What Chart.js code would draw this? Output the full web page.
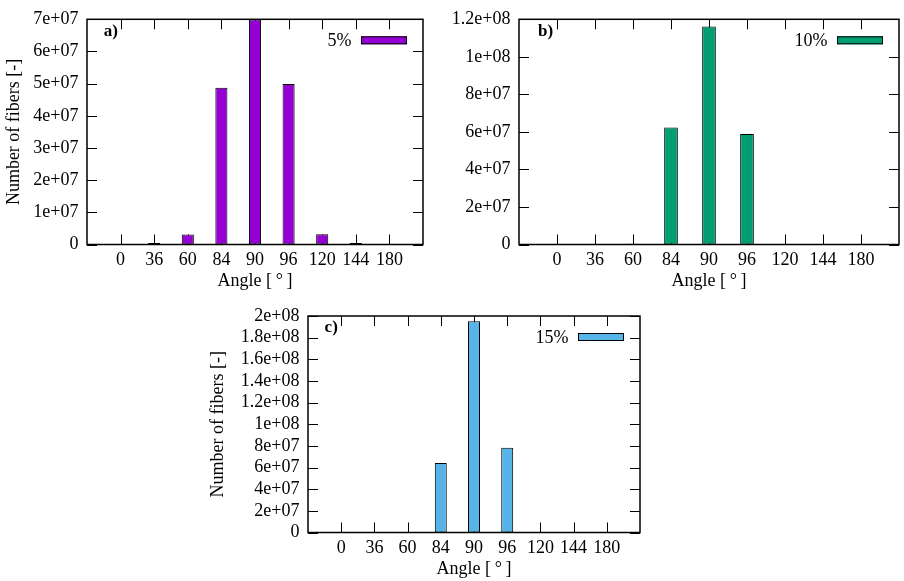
<!DOCTYPE html>
<html lang="en">
<head>
    <meta charset="UTF-8">
    <title>Number of fibers per angle</title>
    <script src="https://cdn.jsdelivr.net/npm/chart.js"></script>
    <style>
        html, body { margin: 0; padding: 0; background: #fff; overflow: hidden; }
        body { width: 904px; height: 581px; position: relative; }
        canvas { position: absolute; }
    </style>
</head>
<body>
    <canvas id="chartA" width="452" height="295" style="left:0px;top:0px"></canvas>
    <canvas id="chartB" width="452" height="295" style="left:452px;top:0px"></canvas>
    <canvas id="chartC" width="456" height="288" style="left:204px;top:295px"></canvas>
    <script>
        // angle classes (x axis)
        const angles = ['0', '36', '60', '84', '90', '96', '120', '144', '180'];

        // number of fibers per angle
        const fibers5 = [1e5, 5e5, 3.1e6, 4.87e7, 6.99e7, 4.99e7, 3.2e6, 5e5, 1e5];
        const fibers10 = [1e5, 1e5, 4e5, 6.24e7, 1.161e8, 5.89e7, 1e5, 1e5, 1e5];
        const fibers15 = [2e5, 2e5, 2e5, 6.42e7, 1.952e8, 7.83e7, 2e5, 2e5, 2e5];

        // y ticks of each panel
        const yTicksA = [0, 1e7, 2e7, 3e7, 4e7, 5e7, 6e7, 7e7];
        const yTicksB = [0, 2e7, 4e7, 6e7, 8e7, 1e8, 1.2e8];
        const yTicksC = [0, 2e7, 4e7, 6e7, 8e7, 1e8, 1.2e8, 1.4e8, 1.6e8, 1.8e8, 2e8];

        const TICK = 10;

        Chart.defaults.font.family = "'Liberation Serif', 'DejaVu Serif', serif";
        Chart.defaults.font.size = 18;
        Chart.defaults.color = '#000';

        // gnuplot style number format: 1.2e+08
        function gnuFmt(v) {
            if (Math.abs(v) < 1) return '0';
            const e = Math.floor(Math.log10(v) + 1e-9);
            const m = parseFloat((v / Math.pow(10, e)).toFixed(2));
            return m + 'e+' + String(e).padStart(2, '0');
        }

        // frame, inward ticks, panel tag and key, like gnuplot draws them
        const gnuFrame = {
            id: 'gnuFrame',
            beforeDatasetsDraw(chart) {
                const { ctx, chartArea: a, scales: { x, y } } = chart;
                ctx.save();
                ctx.strokeStyle = '#000';
                ctx.lineWidth = 1;
                ctx.beginPath();
                x.ticks.forEach(t => {
                    if (angles[t.value] === undefined) return;
                    const px = Math.round(x.getPixelForValue(t.value)) + 0.5;
                    ctx.moveTo(px, a.bottom); ctx.lineTo(px, a.bottom - TICK);
                    ctx.moveTo(px, a.top); ctx.lineTo(px, a.top + TICK);
                });
                y.ticks.forEach(t => {
                    const py = Math.round(y.getPixelForValue(t.value)) + 0.5;
                    ctx.moveTo(a.left, py); ctx.lineTo(a.left + TICK, py);
                    ctx.moveTo(a.right, py); ctx.lineTo(a.right - TICK, py);
                });
                ctx.stroke();
                ctx.restore();
            },
            afterDatasetsDraw(chart, args, opts) {
                const { ctx, chartArea: a } = chart;
                const ds = chart.data.datasets[0];
                ctx.save();
                ctx.strokeStyle = '#000';
                ctx.lineWidth = 1.5;
                ctx.strokeRect(a.left, a.top, a.width, a.height);

                // panel tag
                ctx.fillStyle = '#000';
                ctx.font = "bold 17px 'Liberation Serif', serif";
                ctx.textAlign = 'left';
                ctx.textBaseline = 'middle';
                ctx.fillText(opts.tag, a.left + a.width * 0.05, a.top + a.height * 0.05 + 1);

                // key
                const bx = a.right - 16 - 46, by = a.top + 17;
                ctx.fillStyle = ds.backgroundColor;
                ctx.fillRect(bx, by, 46, 8);
                ctx.lineWidth = 1;
                ctx.strokeRect(bx + 0.5, by + 0.5, 45, 7);
                ctx.fillStyle = '#000';
                ctx.font = "18px 'Liberation Serif', serif";
                ctx.textAlign = 'right';
                ctx.fillText(ds.label, bx - 9.5, by + 5);
                ctx.restore();
            }
        };

        function makePanel(id, values, label, color, tag, yTicks, yTitle, yWidth, padTop, padRight) {
            const ctx = document.getElementById(id).getContext('2d');
            return new Chart(ctx, {
                type: 'bar',
                data: {
                    datasets: [{
                        label: label,
                        data: values.map((v, i) => ({ x: i, y: v })),
                        backgroundColor: color,
                        borderColor: '#000',
                        borderWidth: 1,
                        borderSkipped: false,
                        categoryPercentage: 1,
                        barPercentage: 0.36
                    }]
                },
                options: {
                    responsive: false,
                    animation: false,
                    layout: { padding: { top: padTop, right: padRight, left: 0, bottom: 0 } },
                    scales: {
                        x: {
                            type: 'linear',
                            offset: false,
                            min: -1,
                            max: angles.length,
                            grid: { display: false, drawTicks: false },
                            border: { display: false },
                            ticks: {
                                stepSize: 1,
                                autoSkip: false,
                                maxRotation: 0,
                                padding: 5,
                                callback: v => angles[Math.round(v)] ?? ''
                            },
                            title: { display: true, text: 'Angle [\u2009°\u2009]', padding: { top: 0, bottom: 3 } },
                            afterFit: s => { s.height = 50.5; }
                        },
                        y: {
                            min: 0,
                            max: yTicks[yTicks.length - 1],
                            grid: { display: false, drawTicks: false },
                            border: { display: false },
                            afterBuildTicks: s => { s.ticks = yTicks.map(v => ({ value: v })); },
                            ticks: { padding: 8.5, autoSkip: false, callback: v => gnuFmt(v) },
                            title: { display: !!yTitle, text: yTitle || '', padding: { top: 3, bottom: 0 } },
                            afterFit: s => { s.width = yWidth; }
                        }
                    },
                    plugins: {
                        legend: { display: false },
                        tooltip: { enabled: false },
                        gnuFrame: { tag: tag }
                    }
                },
                plugins: [gnuFrame]
            });
        }

        makePanel('chartA', fibers5, '5%', '#9400d3', 'a)', yTicksA, 'Number of fibers [-]', 87, 15, 29);
        makePanel('chartB', fibers10, '10%', '#009e73', 'b)', yTicksB, null, 67, 15, 1);
        makePanel('chartC', fibers15, '15%', '#56b4e9', 'c)', yTicksC, 'Number of fibers [-]', 104, 21, 20);
    </script>
</body>
</html>
